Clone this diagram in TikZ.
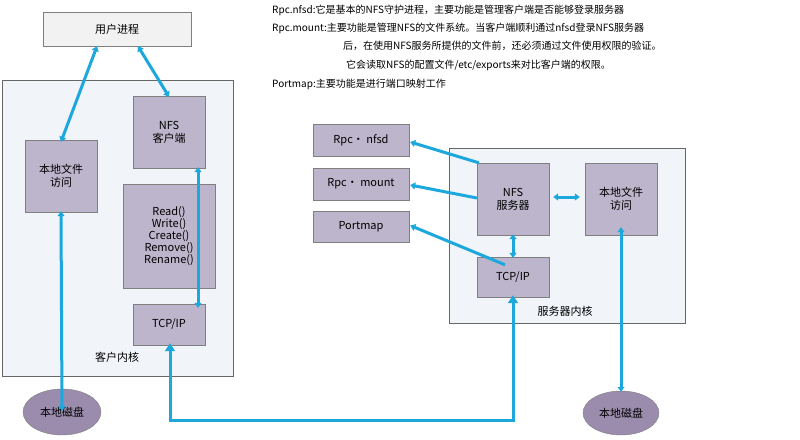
\documentclass[tikz,border=0pt]{standalone}
\usepackage{fontspec}
\setmainfont{Noto Sans CJK SC}
\usetikzlibrary{arrows.meta,shapes.geometric}
\definecolor{boxf}{HTML}{BDB5CB}
\definecolor{boxd}{HTML}{7F7F7F}
\definecolor{arr}{HTML}{1CA8DD}
\definecolor{kern}{HTML}{F1F4F9}
\definecolor{diskf}{HTML}{9B8CAE}
\begin{document}
\begin{tikzpicture}[x=1pt,y=-1pt,
  pbox/.style={draw=boxd,fill=boxf,minimum width=72pt,minimum height=72pt,align=center,font=\fontsize{11}{13}\selectfont,inner sep=1pt},
  kbox/.style={draw=boxd!80!black,fill=kern},
  disk/.style={ellipse,draw=boxd,fill=diskf,minimum width=78pt,minimum height=46pt,font=\fontsize{11}{13}\selectfont},
  conn/.style={draw=arr,line width=3pt},
  dbl/.style={conn,{Triangle[length=5pt,width=7pt]}-{Triangle[length=5pt,width=7pt]}},
  sgl/.style={conn,-{Triangle[length=5pt,width=7pt]}},
  note/.style={anchor=west,font=\fontsize{10}{12}\selectfont,inner sep=0pt}]
\useasboundingbox (0,0) rectangle (800,439);
\fill[white] (0,0) rectangle (800,439);
% client
\draw[kbox] (2,80) rectangle (233,376);
\node[draw=boxd,fill=black!5,minimum width=148pt,minimum height=34pt,font=\fontsize{11}{13}\selectfont] (up) at (117,29) {用户进程};
\node[pbox] (nfsc) at (169,132) {NFS\\客户端};
\node[pbox] (lfa) at (61,176) {本地文件\\访问};
\node[pbox,minimum width=92pt,minimum height=104pt,font=\fontsize{11}{12}\selectfont] (ops) at (169,236) {Read()\\Write()\\Create()\\Remove()\\Rename()};
\node[pbox,minimum height=41pt] (tcpc) at (169,324.5) {TCP/IP};
\node[font=\fontsize{11}{13}\selectfont] (ck) at (117,357) {客户内核};
\node[disk] (diskc) at (62,412) {本地磁盘};
% server
\node[pbox,minimum width=96pt,minimum height=32pt] (nfsd) at (361,140) {Rpc· nfsd};
\node[pbox,minimum width=96pt,minimum height=32pt] (mount) at (361,184) {Rpc· mount};
\node[pbox,minimum width=96pt,minimum height=31pt] (pmap) at (361,226.5) {Portmap};
\draw[kbox] (449,148) rectangle (685,323);
\node[pbox] (nfss) at (513,199) {NFS\\服务器};
\node[pbox] (lfas) at (621,199) {本地文件\\访问};
\node[pbox,minimum height=40pt] (tcps) at (513,277) {TCP/IP};
\node[font=\fontsize{11}{13}\selectfont] (sk) at (565,311) {服务器内核};
\node[disk,minimum width=76pt,minimum height=44pt] (disks) at (621,413) {本地磁盘};
% connectors client
\draw[dbl] ([xshift=-20pt]up.south) -- ([yshift=-2pt]lfa.north);
\draw[dbl] ([xshift=21pt]up.south) -- ([yshift=-1pt]nfsc.north);
\draw[dbl] ([yshift=1pt]lfa.south) -- ([yshift=-22pt]diskc.north);
\draw[dbl] ([xshift=29pt,yshift=1pt]nfsc.south) -- ([xshift=29pt,yshift=-4pt]tcpc.north);
\coordinate (b1) at (170,420);
\coordinate (b2) at (513,420);
\draw[conn,-{Triangle[length=8pt,width=10pt]}] (b2) -- (b1) -- ([xshift=1pt,yshift=2pt]tcpc.south);
\draw[conn,-{Triangle[length=8pt,width=10pt]}] (b1) -- (b2) -- ([yshift=2pt]tcps.south);
% connectors server
\draw[sgl] ([xshift=2pt]nfss.north west) -- ([xshift=1pt,yshift=-2pt]nfsd.east);
\draw[sgl] ([yshift=1pt]nfss.west) -- ([xshift=1pt,yshift=-1pt]mount.east);
\draw[sgl] ([xshift=-8pt,yshift=-8pt]tcps.north) -- ([xshift=1pt,yshift=1pt]pmap.east);
\draw[dbl] ([yshift=1pt]nfss.south) -- ([yshift=-1pt]tcps.north);
\draw[dbl] ([xshift=4pt,yshift=2pt]nfss.east) -- ([xshift=-5pt,yshift=2pt]lfas.west);
\draw[dbl] ([yshift=8pt]lfas.south) -- ([yshift=-1pt]disks.north);
% notes
\node[note] (n1) at (272,10) {Rpc.nfsd:它是基本的NFS守护进程，主要功能是管理客户端是否能够登录服务器};
\node[note] (n2) at (272,28) {Rpc.mount:主要功能是管理NFS的文件系统。当客户端顺利通过nfsd登录NFS服务器};
\node[note] (n3) at (343,46) {后，在使用NFS服务所提供的文件前，还必须通过文件使用权限的验证。};
\node[note] (n4) at (346,65) {它会读取NFS的配置文件/etc/exports来对比客户端的权限。};
\node[note] (n5) at (272,84) {Portmap:主要功能是进行端口映射工作};
\end{tikzpicture}
\end{document}
